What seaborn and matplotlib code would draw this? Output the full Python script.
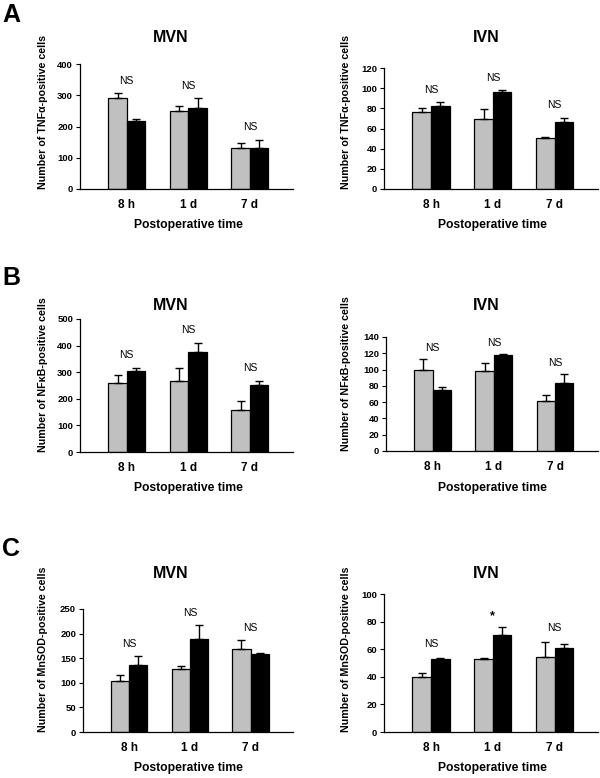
import matplotlib
matplotlib.use("Agg")
import matplotlib.pyplot as plt
import seaborn as sns
import pandas as pd

times = ["8 h", "1 d", "7 d"]
groups = ["gray", "black"]

# A: TNFa
tnf_mvn_gray = [291, 251, 131]
tnf_mvn_gray_err = [16, 16, 15]
tnf_mvn_black = [219, 259, 132]
tnf_mvn_black_err = [6, 32, 25]
tnf_mvn_notes = ["NS", "NS", "NS"]

tnf_ivn_gray = [76, 69.6, 51]
tnf_ivn_gray_err = [4, 10, 1]
tnf_ivn_black = [82.4, 96.6, 66.3]
tnf_ivn_black_err = [4, 1.6, 4.6]
tnf_ivn_notes = ["NS", "NS", "NS"]

# B: NFkB
nfkb_mvn_gray = [260, 268, 157]
nfkb_mvn_gray_err = [30, 48, 34]
nfkb_mvn_black = [306, 375, 253]
nfkb_mvn_black_err = [10, 33, 14]
nfkb_mvn_notes = ["NS", "NS", "NS"]

nfkb_ivn_gray = [99, 98, 61]
nfkb_ivn_gray_err = [14, 10, 8]
nfkb_ivn_black = [75.5, 118, 83]
nfkb_ivn_black_err = [3.5, 1, 11]
nfkb_ivn_notes = ["NS", "NS", "NS"]

# C: MnSOD
sod_mvn_gray = [103, 129, 168]
sod_mvn_gray_err = [13, 6, 19]
sod_mvn_black = [137, 190, 158]
sod_mvn_black_err = [17, 27, 2]
sod_mvn_notes = ["NS", "NS", "NS"]

sod_ivn_gray = [39.5, 52.8, 54.7]
sod_ivn_gray_err = [3.5, 0.5, 10.6]
sod_ivn_black = [53, 70, 61.2]
sod_ivn_black_err = [0.5, 6.4, 2.7]
sod_ivn_notes = ["NS", "*", "NS"]

sns.set_style("white")
plt.rcParams['font.family'] = ['Liberation Sans', 'DejaVu Sans']
plt.rcParams['text.color'] = 'black'
plt.rcParams['xtick.color'] = 'black'
plt.rcParams['ytick.color'] = 'black'
plt.rcParams['axes.labelcolor'] = 'black'

W, H = 600, 778
fig = plt.figure(figsize=(6, 7.78), dpi=100)


def px_rect(left, right, top, bottom):
    return [left / W, (H - bottom) / H, (right - left) / W, (bottom - top) / H]


def draw_panel(rect, gray, gray_err, black, black_err, notes, ymax, ystep):
    ax = fig.add_axes(rect)
    df = pd.DataFrame({
        "time": times * 2,
        "group": [groups[0]] * 3 + [groups[1]] * 3,
        "count": gray + black,
    })
    sns.barplot(data=df, x="time", y="count", hue="group", order=times,
                hue_order=groups, palette={"gray": "#c0c0c0", "black": "#000000"},
                edgecolor="black", linewidth=0.9, width=0.6, errorbar=None,
                legend=False, ax=ax)
    tops = [0, 0, 0]
    for cont, err in zip(ax.containers, [gray_err, black_err]):
        for i, (bar, e) in enumerate(zip(cont, err)):
            x = bar.get_x() + bar.get_width() / 2
            h = bar.get_height()
            ax.errorbar(x, h, yerr=[[0], [e]], fmt="none", ecolor="black",
                        elinewidth=1.0, capsize=3, capthick=1.0)
            tops[i] = max(tops[i], h + e)
    for i, note in enumerate(notes):
        off = 0.1 * ymax if note == "NS" else 0.075 * ymax
        ax.text(i, tops[i] + off, note, ha="center", va="center",
                fontsize=7.5 if note == "NS" else 9,
                fontweight="normal" if note == "NS" else "bold")
    ax.set_xlim(-0.76, 2.7)
    ax.set_ylim(0, ymax)
    ax.set_yticks(range(0, ymax + 1, ystep))
    ax.set_xlabel("")
    ax.set_ylabel("")
    for s in ["top", "right"]:
        ax.spines[s].set_visible(False)
    for s in ["left", "bottom"]:
        ax.spines[s].set_linewidth(0.9)
        ax.spines[s].set_color("black")
    ax.tick_params(axis="y", length=3, width=0.8, direction="out", pad=2,
                   labelsize=6.8, left=True)
    ax.tick_params(axis="x", length=0, pad=7, labelsize=8.5)
    for lab in ax.get_xticklabels() + ax.get_yticklabels():
        lab.set_fontweight("bold")
    ax.patch.set_alpha(0)
    return ax


def fig_text(x, y, s, **kw):
    fig.text(x / W, (H - y) / H, s, **kw)


rows = [
    ("A", 15, "Number of TNFα-positive cells", 37, 225,
     (px_rect(80, 293, 64, 189), tnf_mvn_gray, tnf_mvn_gray_err, tnf_mvn_black,
      tnf_mvn_black_err, tnf_mvn_notes, 400, 100),
     (px_rect(384, 598, 68, 189), tnf_ivn_gray, tnf_ivn_gray_err, tnf_ivn_black,
      tnf_ivn_black_err, tnf_ivn_notes, 120, 20), 189, 189),
    ("B", 278, "Number of NFκB-positive cells", 305, 488,
     (px_rect(80, 293, 319, 452), nfkb_mvn_gray, nfkb_mvn_gray_err, nfkb_mvn_black,
      nfkb_mvn_black_err, nfkb_mvn_notes, 500, 100),
     (px_rect(386, 598, 337, 451), nfkb_ivn_gray, nfkb_ivn_gray_err, nfkb_ivn_black,
      nfkb_ivn_black_err, nfkb_ivn_notes, 140, 20), 452, 451),
    ("C", 549, "Number of MnSOD-positive cells", 574, 768,
     (px_rect(83, 293, 609, 732), sod_mvn_gray, sod_mvn_gray_err, sod_mvn_black,
      sod_mvn_black_err, sod_mvn_notes, 250, 50),
     (px_rect(384, 598, 594, 732), sod_ivn_gray, sod_ivn_gray_err, sod_ivn_black,
      sod_ivn_black_err, sod_ivn_notes, 100, 20), 732, 732),
]

for letter, ly, ylab, ty, xly, mvn, ivn, base_l, base_r in rows:
    draw_panel(*mvn)
    draw_panel(*ivn)
    fig_text(11, ly, letter, fontsize=18, fontweight="bold", ha="center", va="center")
    fig_text(171, ty, "MVN", fontsize=11.5, fontweight="bold", ha="center", va="center")
    fig_text(486, ty, "IVN", fontsize=11.5, fontweight="bold", ha="center", va="center")
    fig_text(43, base_l, ylab, fontsize=7.7, fontweight="bold", rotation=90,
             ha="center", va="bottom")
    fig_text(346, base_r, ylab, fontsize=7.7, fontweight="bold", rotation=90,
             ha="center", va="bottom")
    fig_text(188, xly, "Postoperative time", fontsize=8.7, fontweight="bold",
             ha="center", va="center")
    fig_text(492, xly, "Postoperative time", fontsize=8.7, fontweight="bold",
             ha="center", va="center")

fig.savefig("out.png", dpi=100)
